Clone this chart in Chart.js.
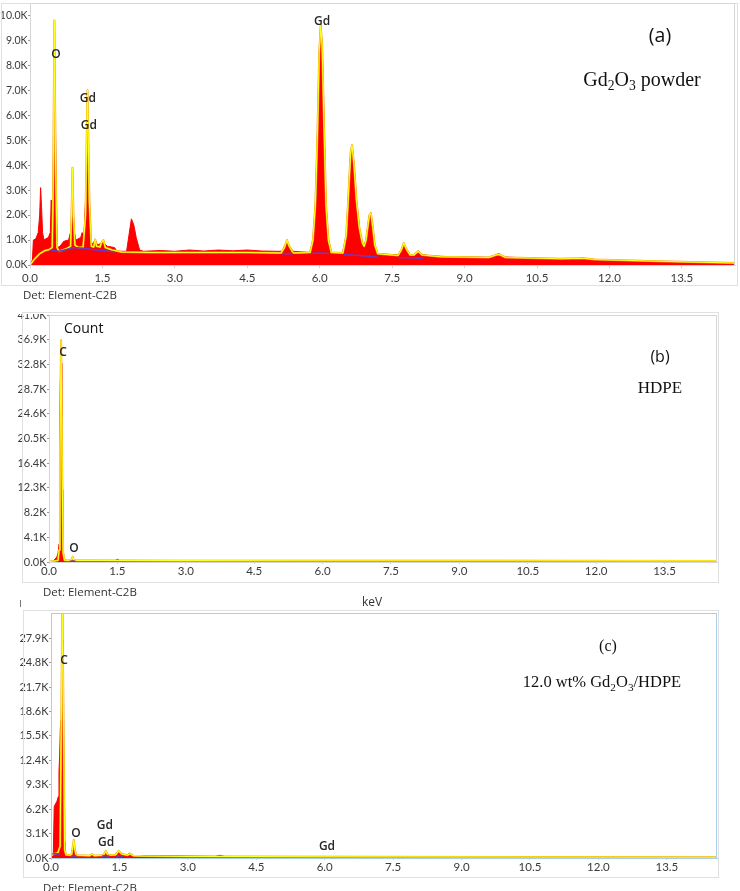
<!DOCTYPE html>
<html>
<head>
<meta charset="utf-8">
<script src="https://cdn.jsdelivr.net/npm/chart.js@4.4.1/dist/chart.umd.min.js"></script>
<style>
	body { margin: 0; background: #fff; width: 740px; height: 891px; position: relative; overflow: hidden; }
	canvas { position: absolute; left: 0; }
</style>
</head>
<body>
<canvas id="chA" width="740" height="305" style="top:0px"></canvas>
<canvas id="chB" width="740" height="299" style="top:311px"></canvas>
<canvas id="chC" width="740" height="285" style="top:606px"></canvas>
<script>
// shared x ticks (keV)
const xTicks = [0, 1.5, 3, 4.5, 6, 7.5, 9, 10.5, 12, 13.5];

// y tick labels (thousands of counts)
const aYTicks = [0, 1, 2, 3, 4, 5, 6, 7, 8, 9, 10];
const bYTicks = [0, 4.1, 8.2, 12.3, 16.4, 20.5, 24.6, 28.7, 32.8, 36.9, 41.0];
const cYTicks = [0, 3.1, 6.2, 9.3, 12.4, 15.5, 18.6, 21.7, 24.8, 27.9];

// (a) Gd2O3 powder - measured spectrum (red)
const aKeV = [0, 0.05, 0.07, 0.12, 0.17, 0.2, 0.22, 0.24, 0.26, 0.29, 0.33, 0.38, 0.42, 0.44, 0.45, 0.46, 0.48, 0.505, 0.525, 0.545, 0.57, 0.62, 0.7, 0.8, 0.85, 0.88, 0.91, 0.95, 1.05, 1.08, 1.12, 1.16, 1.19, 1.22, 1.26, 1.3, 1.35, 1.4, 1.5, 1.55, 1.6, 1.75, 1.8, 2.0, 2.05, 2.1, 2.15, 2.2, 2.27, 2.35, 2.7, 3.0, 3.3, 3.6, 3.9, 4.2, 4.5, 4.8, 5.1, 5.22, 5.27, 5.32, 5.37, 5.45, 5.8, 5.86, 5.91, 5.95, 5.99, 6.02, 6.05, 6.09, 6.13, 6.18, 6.24, 6.48, 6.55, 6.6, 6.64, 6.67, 6.71, 6.76, 6.82, 6.88, 6.92, 6.96, 7.0, 7.03, 7.06, 7.1, 7.14, 7.2, 7.62, 7.69, 7.74, 7.79, 7.87, 7.95, 8.04, 8.12, 8.3, 9.0, 9.55, 9.65, 9.72, 9.8, 10.5, 11.3, 11.44, 11.6, 12.5, 14.6];
const aCounts = [0, 0.2, 1.0, 1.05, 1.3, 2.0, 3.1, 2.3, 1.3, 1.0, 1.05, 1.1, 1.3, 2.6, 1.4, 1.4, 3.5, 7.9, 6.0, 2.0, 0.7, 0.75, 0.95, 1.0, 1.4, 2.9, 1.4, 1.0, 1.1, 1.3, 1.2, 3.0, 5.6, 2.5, 0.9, 0.85, 1.0, 0.8, 0.9, 0.85, 0.75, 0.7, 0.55, 0.55, 1.2, 1.85, 1.6, 1.1, 0.6, 0.55, 0.58, 0.55, 0.6, 0.56, 0.6, 0.57, 0.6, 0.56, 0.55, 0.55, 0.75, 0.95, 0.75, 0.55, 0.5, 1.0, 2.4, 5.0, 8.5, 9.6, 8.8, 5.5, 2.4, 1.0, 0.5, 0.5, 1.2, 3.0, 4.5, 4.8, 4.0, 2.6, 1.5, 0.9, 0.75, 1.0, 1.6, 2.0, 2.05, 1.5, 0.8, 0.45, 0.4, 0.6, 0.88, 0.65, 0.42, 0.42, 0.56, 0.42, 0.36, 0.32, 0.3, 0.42, 0.45, 0.32, 0.27, 0.22, 0.28, 0.2, 0.15, 0.07];

// (a) fitted spectrum (yellow)
const aFitKeV = [0, 0.1, 0.2, 0.3, 0.4, 0.46, 0.48, 0.505, 0.53, 0.56, 0.6, 0.75, 0.84, 0.86, 0.88, 0.9, 0.93, 1.0, 1.1, 1.15, 1.19, 1.23, 1.27, 1.32, 1.35, 1.38, 1.45, 1.48, 1.52, 1.56, 1.7, 1.9, 2.5, 3.5, 4.5, 5.2, 5.27, 5.32, 5.37, 5.45, 5.8, 5.86, 5.91, 5.95, 5.99, 6.02, 6.05, 6.09, 6.13, 6.18, 6.24, 6.48, 6.55, 6.6, 6.64, 6.67, 6.71, 6.76, 6.82, 6.88, 6.92, 6.96, 7.0, 7.03, 7.06, 7.1, 7.14, 7.2, 7.62, 7.69, 7.74, 7.79, 7.87, 7.95, 8.04, 8.12, 8.5, 9.5, 9.65, 9.72, 9.85, 11.0, 11.44, 11.7, 13.0, 14.6];
const aFit = [0, 0.25, 0.45, 0.57, 0.62, 0.7, 3.0, 9.8, 4.0, 0.7, 0.55, 0.65, 0.75, 2.0, 3.9, 2.0, 0.8, 0.7, 0.72, 2.0, 7.0, 2.5, 0.75, 0.72, 1.02, 0.75, 0.72, 0.9, 1.0, 0.7, 0.6, 0.52, 0.5, 0.5, 0.5, 0.48, 0.7, 1.0, 0.75, 0.48, 0.5, 1.0, 2.4, 5.0, 8.5, 9.6, 8.8, 5.5, 2.4, 1.0, 0.5, 0.48, 1.2, 3.0, 4.5, 4.8, 4.0, 2.6, 1.5, 0.9, 0.75, 1.0, 1.6, 2.0, 2.08, 1.5, 0.8, 0.45, 0.38, 0.6, 0.88, 0.65, 0.4, 0.4, 0.55, 0.4, 0.33, 0.3, 0.4, 0.42, 0.3, 0.25, 0.27, 0.22, 0.15, 0.08];

// (a) background (purple), null = gap
const aBgKeV = [0.42, 0.5, 0.6, 0.75, 0.9, 1.05, 1.2, 1.35, 1.5, 1.65, 1.75, 3, 5.22, 5.32, 5.45, 5.6, 5.85, 6.0, 6.2, 6.3, 6.5, 6.8, 7.0, 7.2, 7.4, 7.62, 7.8, 8.0, 8.15];
const aBg = [0.6, 0.58, 0.55, 0.62, 0.7, 0.68, 0.65, 0.6, 0.58, 0.55, 0.52, null, 0.45, 0.46, 0.45, null, 0.47, 0.48, 0.46, null, 0.42, 0.38, 0.35, 0.32, null, 0.3, 0.29, 0.28, 0.27];

// (b) HDPE
const bKeV = [0, 0.08, 0.12, 0.17, 0.2, 0.22, 0.23, 0.24, 0.25, 0.265, 0.28, 0.29, 0.3, 0.32, 0.4, 0.47, 0.52, 0.57, 0.7, 1.0, 1.45, 1.5, 1.55, 2.0, 5.0, 10.0, 14.65];
const bCounts = [0, 0.1, 0.4, 0.8, 1.5, 3.0, 12, 22, 30, 33, 24, 12, 4, 0.4, 0.15, 0.2, 0.7, 0.2, 0.15, 0.2, 0.2, 0.45, 0.2, 0.15, 0.1, 0.08, 0.05];
const bFitKeV = [0, 0.15, 0.2, 0.22, 0.24, 0.265, 0.29, 0.31, 0.34, 0.45, 0.5, 0.52, 0.54, 0.6, 1.0, 3.0, 6.0, 10.0, 14.65];
const bFit = [0.05, 0.2, 0.3, 2.0, 18, 36.8, 14, 1.5, 0.3, 0.25, 0.4, 0.85, 0.4, 0.25, 0.25, 0.22, 0.2, 0.2, 0.18];
const bBgKeV = [0.45, 0.52, 0.58];
const bBg = [0.12, 0.14, 0.12];

// (c) 12.0 wt% Gd2O3/HDPE
const cKeV = [0, 0.05, 0.07, 0.1, 0.13, 0.16, 0.175, 0.19, 0.205, 0.22, 0.235, 0.25, 0.262, 0.275, 0.29, 0.305, 0.33, 0.4, 0.45, 0.5, 0.53, 0.6, 0.85, 0.9, 0.95, 1.15, 1.2, 1.25, 1.4, 1.48, 1.55, 1.65, 1.72, 1.78, 2.0, 2.6, 3.6, 3.7, 3.8, 6.0, 10.0, 14.6];
const cCounts = [0, 0.3, 6.5, 6.9, 7.2, 7.8, 11, 13, 16.5, 17.5, 22, 27.7, 20, 8, 2, 0.8, 0.4, 0.3, 0.5, 1.8, 0.4, 0.25, 0.3, 0.45, 0.25, 0.35, 0.8, 0.35, 0.4, 0.9, 0.5, 0.3, 0.6, 0.3, 0.25, 0.3, 0.2, 0.35, 0.2, 0.12, 0.08, 0.05];
const cFitKeV = [0, 0.07, 0.15, 0.2, 0.23, 0.25, 0.27, 0.3, 0.33, 0.45, 0.48, 0.5, 0.52, 0.55, 0.85, 0.9, 0.95, 1.15, 1.2, 1.25, 1.42, 1.48, 1.55, 1.68, 1.73, 1.8, 2.0, 3.0, 6.0, 10.0, 14.6];
const cFit = [0.3, 0.55, 0.65, 1.5, 20, 34, 20, 1.0, 0.4, 0.35, 1.5, 2.3, 1.2, 0.35, 0.3, 0.5, 0.3, 0.35, 0.9, 0.35, 0.4, 0.9, 0.5, 0.35, 0.55, 0.3, 0.25, 0.2, 0.15, 0.12, 0.1];
const cBgKeV = [0.03, 0.1, 0.2, 0.3, 0.44, 0.5, 0.56, 0.8, 1.12, 1.2, 1.28, 1.35, 1.42, 1.5, 1.58];
const cBg = [0.5, 0.55, 0.5, null, 0.25, 0.27, 0.25, null, 0.25, 0.3, 0.25, null, 0.25, 0.3, 0.25];

// peak labels (keV, thousands of counts)
const aPeaks = [{t: "O", x: 0.54, y: 8.42}, {t: "Gd", x: 1.2, y: 6.65}, {t: "Gd", x: 1.22, y: 5.57}, {t: "Gd", x: 6.05, y: 9.74}];
const bPeaks = [{t: "C", x: 0.31, y: 34.7}, {t: "O", x: 0.55, y: 2.3}];
const cPeaks = [{t: "C", x: 0.285, y: 25.0}, {t: "O", x: 0.55, y: 3.05}, {t: "Gd", x: 1.18, y: 4.06}, {t: "Gd", x: 1.21, y: 1.9}, {t: "Gd", x: 6.05, y: 1.4}];

const sans = '"Open Sans", "Noto Sans", sans-serif';
const tickFont = 'Lato, "Open Sans", sans-serif';
const serif = '"Liberation Serif", "DejaVu Serif", serif';

// panel decorations, canvas coordinates
const decorCfg = {
	chA: {
		frame: [1, 3, 737, 285], plotColor: "#d6d6d6", peaks: aPeaks,
		texts: [
			{x: 660, y: 36, font: sans, size: 19.5, parts: [["(a)", 0]]},
			{x: 642, y: 81, font: serif, size: 20, parts: [["Gd", 0], ["2", 1], ["O", 0], ["3", 1], [" powder", 0]]},
			{x: 23, y: 296, align: "left", font: sans, size: 11.5, color: "#333", parts: [["Det: Element-C2B", 0]]}
		]
	},
	chB: {
		cover: 3, frame: [22, 1, 718, 271], plotColor: "#d6d6d6", peaks: bPeaks,
		texts: [
			{x: 64, y: 18, align: "left", font: sans, size: 14, parts: [["Count", 0]]},
			{x: 660, y: 46, font: sans, size: 16, parts: [["(b)", 0]]},
			{x: 660, y: 78, font: serif, size: 17, parts: [["HDPE", 0]]},
			{x: 43, y: 282, align: "left", font: sans, size: 11.5, color: "#333", parts: [["Det: Element-C2B", 0]]},
			{x: 372, y: 292, font: sans, size: 12, color: "#333", parts: [["keV", 0]]}
		],
		mark: [20, 289, 20, 296]
	},
	chC: {
		frame: [23, 4, 718, 271], plotColor: "#a8cfe8", peaks: cPeaks,
		texts: [
			{x: 608, y: 41, font: serif, size: 16, parts: [["(c)", 0]]},
			{x: 602, y: 77, font: serif, size: 16.5, parts: [["12.0 wt% Gd", 0], ["2", 1], ["O", 0], ["3", 1], ["/HDPE", 0]]},
			{x: 43, y: 283, align: "left", font: sans, size: 11.5, color: "#333", parts: [["Det: Element-C2B", 0]]}
		]
	}
};

// text with subscripts
function drawRich(ctx, t) {
	const subSize = t.size * 0.68;
	let total = 0;
	for (let [s, sub] of t.parts) {
		ctx.font = `${sub ? subSize : t.size}px ${t.font}`;
		total += ctx.measureText(s).width;
	}
	let x = t.align === "left" ? t.x : t.x - total / 2;
	ctx.textAlign = "left";
	ctx.textBaseline = "middle";
	ctx.fillStyle = t.color || "#111";
	for (let [s, sub] of t.parts) {
		ctx.font = `${sub ? subSize : t.size}px ${t.font}`;
		ctx.fillText(s, x, sub ? t.y + t.size * 0.28 : t.y);
		x += ctx.measureText(s).width;
	}
}

const decorPlugin = {
	id: "decor",
	afterDraw(chart) {
		const o = decorCfg[chart.canvas.id];
		const ctx = chart.ctx;
		const a = chart.chartArea;
		ctx.save();
		if (o.cover) {
			ctx.fillStyle = "#fff";
			ctx.fillRect(0, 0, chart.width, o.cover);
		}
		ctx.lineWidth = 1;
		ctx.strokeStyle = "#e0e0e0";
		const f = o.frame;
		ctx.strokeRect(f[0] + 0.5, f[1] + 0.5, f[2] - f[0], f[3] - f[1]);
		ctx.strokeStyle = o.plotColor;
		ctx.strokeRect(a.left + 0.5, a.top + 0.5, a.right - a.left - 1, a.bottom - a.top);
		if (o.mark) {
			ctx.strokeStyle = "#777";
			ctx.beginPath();
			ctx.moveTo(o.mark[0] + 0.5, o.mark[1]);
			ctx.lineTo(o.mark[2] + 0.5, o.mark[3]);
			ctx.stroke();
		}
		// peak labels
		ctx.font = `600 12px ${sans}`;
		ctx.fillStyle = "#262626";
		ctx.textAlign = "center";
		ctx.textBaseline = "middle";
		for (let p of o.peaks) {
			ctx.fillText(p.t, chart.scales.x.getPixelForValue(p.x), chart.scales.y.getPixelForValue(p.y));
		}
		for (let t of o.texts) drawRich(ctx, t);
		ctx.restore();
	}
};

function pts(xs, ys) {
	return xs.map((x, i) => ({x: x, y: ys[i]}));
}

function makeChart(id, p) {
	return new Chart(document.getElementById(id), {
		type: "line",
		data: {
			datasets: [
				{data: pts(p.bgX, p.bg), borderColor: "#6a3cc4", borderWidth: 1.5, order: 0},
				{data: pts(p.fitX, p.fit), borderColor: "#ffff20", borderWidth: 1.1, order: 1},
				{data: pts(p.fitX, p.fit), borderColor: "#f0a000", borderWidth: 2, order: 2},
				{data: pts(p.redX, p.red), borderColor: "#ff0000", backgroundColor: "#ff0000", borderWidth: 1, fill: "origin", order: 3}
			]
		},
		options: {
			responsive: false,
			animation: false,
			events: [],
			layout: {padding: {top: p.padTop, right: p.padRight, left: 0, bottom: 0}},
			elements: {point: {radius: 0}, line: {tension: 0, borderJoinStyle: "round"}},
			plugins: {legend: {display: false}, tooltip: {enabled: false}},
			scales: {
				x: {
					type: "linear", min: 0, max: p.xMax,
					afterBuildTicks: (s) => { s.ticks = xTicks.map(v => ({value: v})); },
					afterFit: (s) => { s.height = p.axisH; s.paddingLeft = 0; s.paddingRight = 0; },
					grid: {drawOnChartArea: false, tickLength: p.xTickLen, color: "#cfcfcf"},
					border: {color: p.borderColor},
					ticks: {
						padding: p.xPad, color: "#3a3a3a", font: {family: tickFont, size: 11.5},
						maxRotation: 0, autoSkip: false,
						callback: (v) => v.toFixed(1)
					}
				},
				y: {
					type: "linear", min: 0, max: p.yMax,
					afterBuildTicks: (s) => { s.ticks = p.yTicks.map(v => ({value: v})); },
					afterFit: (s) => { s.width = p.axisW; s.paddingTop = 0; s.paddingBottom = 0; },
					grid: {drawOnChartArea: false, tickLength: 2, color: "#9a9a9a"},
					border: {color: p.borderColor},
					ticks: {
						padding: 0.5, color: "#3a3a3a", font: {family: tickFont, size: p.yFont},
						autoSkip: false,
						callback: (v) => v.toFixed(1) + "K"
					}
				}
			}
		},
		plugins: [decorPlugin]
	});
}

makeChart("chA", {
	redX: aKeV, red: aCounts, fitX: aFitKeV, fit: aFit, bgX: aBgKeV, bg: aBg,
	xMax: 14.6, yMax: 10.5, yTicks: aYTicks, yFont: 10.5,
	padTop: 3, padRight: 5, axisW: 30, axisH: 40, xTickLen: 3, xPad: 3, borderColor: "#d6d6d6"
});
makeChart("chB", {
	redX: bKeV, red: bCounts, fitX: bFitKeV, fit: bFit, bgX: bBgKeV, bg: bBg,
	xMax: 14.65, yMax: 41.0, yTicks: bYTicks, yFont: 11,
	padTop: 4, padRight: 23, axisW: 49, axisH: 48, xTickLen: 2, xPad: 0, borderColor: "#d6d6d6"
});
makeChart("chC", {
	redX: cKeV, red: cCounts, fitX: cFitKeV, fit: cFit, bgX: cBgKeV, bg: cBg,
	xMax: 14.6, yMax: 31.1, yTicks: cYTicks, yFont: 11,
	padTop: 7, padRight: 23, axisW: 51, axisH: 33, xTickLen: 2, xPad: 0, borderColor: "#a8cfe8"
});
</script>
</body>
</html>
